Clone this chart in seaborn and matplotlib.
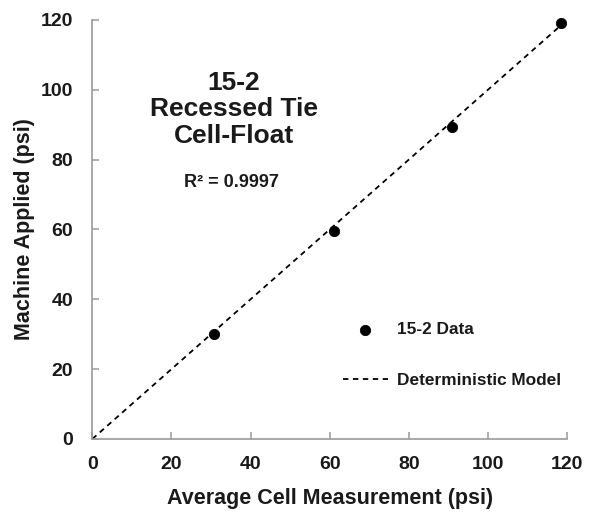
import matplotlib
matplotlib.use("Agg")
import matplotlib.pyplot as plt
import seaborn as sns

# Data
cell_measurement = [30.8, 61.0, 90.9, 118.6]
machine_applied = [30.0, 59.7, 89.4, 119.1]
model_x = [0, 120]
model_y = [0, 120]
ticks = [0, 20, 40, 60, 80, 100, 120]

TEXT = "#1a1a1a"
SPINE = "#9a9a9a"


def main():
    sns.set_style("white")
    plt.rcParams["font.family"] = ["Liberation Sans", "DejaVu Sans"]
    plt.rcParams["font.weight"] = "bold"

    fig = plt.figure(figsize=(5.93, 5.13), dpi=100)
    ax = fig.add_axes([0.1557, 0.1443, 0.8005, 0.8168])

    sns.lineplot(x=model_x, y=model_y, ax=ax, color="black", linewidth=1.3,
                 linestyle=(0, (3, 2.5)), label="Deterministic Model")
    sns.scatterplot(x=cell_measurement, y=machine_applied, ax=ax, color="black",
                    s=55, edgecolor="black", zorder=3, label="15-2 Data",
                    clip_on=False)

    ax.set_xlim(0, 120)
    ax.set_ylim(0, 120)
    ax.set_xticks(ticks)
    ax.set_yticks(ticks)
    ax.tick_params(axis="both", direction="in", length=5, width=1.1, color=SPINE,
                   labelsize=14, labelcolor=TEXT, bottom=True, left=True)
    ax.tick_params(axis="x", pad=12)
    ax.tick_params(axis="y", pad=14)
    for lab in ax.get_xticklabels() + ax.get_yticklabels():
        lab.set_fontweight("bold")

    sns.despine(ax=ax)
    for side in ["left", "bottom"]:
        ax.spines[side].set_color(SPINE)
        ax.spines[side].set_linewidth(1.2)

    ax.set_xlabel("Average Cell Measurement (psi)", fontsize=15.5,
                  fontweight="bold", color=TEXT, labelpad=11)
    ax.set_ylabel("Machine Applied (psi)", fontsize=15.5,
                  fontweight="bold", color=TEXT, labelpad=4)

    ax.text(35.8, 105.5, "15-2\nRecessed Tie\nCell-Float", ha="center", va="top",
            fontsize=19, fontweight="bold", color=TEXT, linespacing=1.15)
    ax.text(35.2, 73.5, "R² = 0.9997", ha="center", va="center",
            fontsize=13, fontweight="bold", color=TEXT)

    handles, labels = ax.get_legend_handles_labels()
    order = [1, 0]
    leg = ax.legend([handles[i] for i in order], [labels[i] for i in order],
                    loc="upper left", bbox_to_anchor=(0.578, 0.372),
                    bbox_transform=fig.transFigure, frameon=False,
                    fontsize=12.4, handlelength=2.6, handletextpad=0.55,
                    labelspacing=2.1, borderpad=0, borderaxespad=0)
    for t in leg.get_texts():
        t.set_color(TEXT)
        t.set_fontweight("bold")

    fig.savefig("out.png", dpi=100)
    plt.close(fig)


if __name__ == "__main__":
    main()
